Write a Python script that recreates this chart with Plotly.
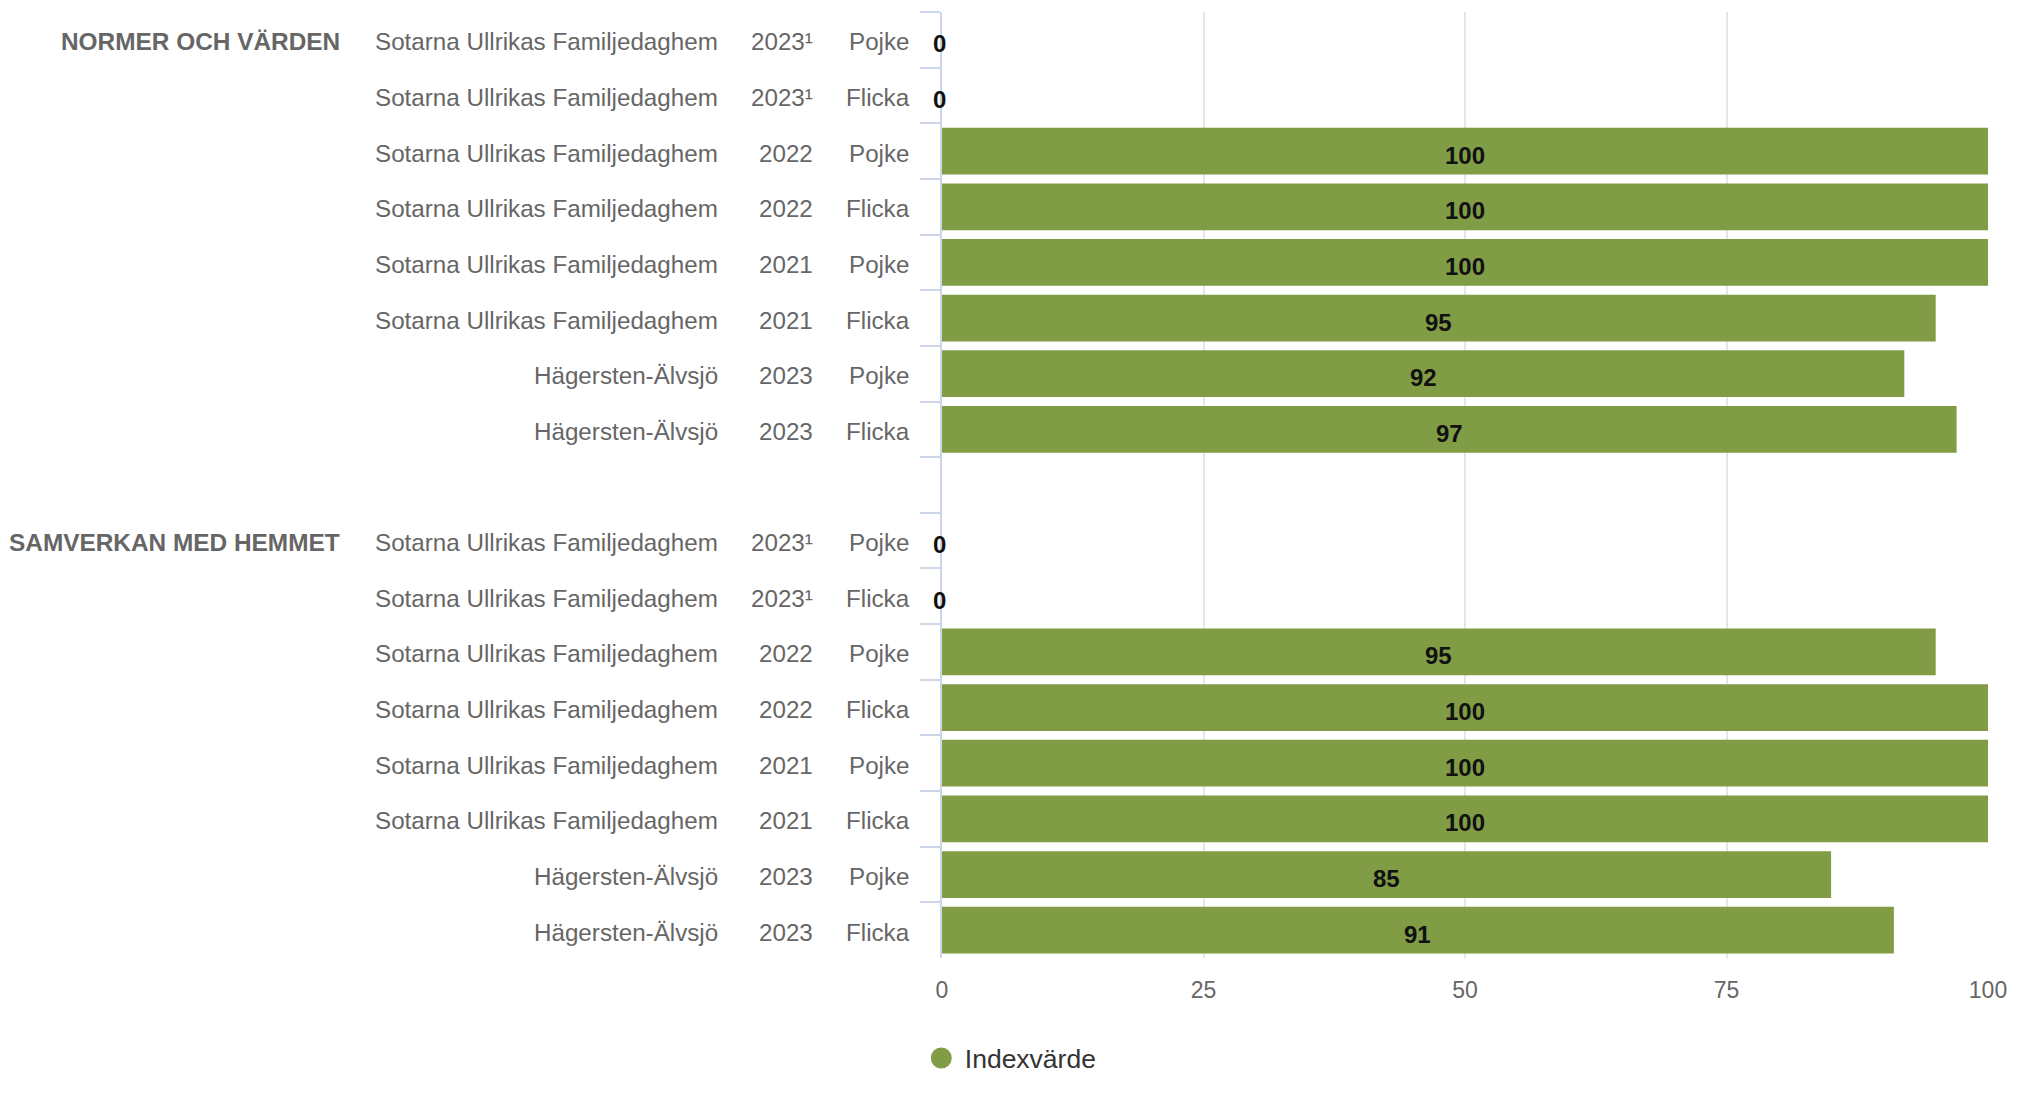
import plotly.graph_objects as go

# ---- data ----
group_names = ["NORMER OCH VÄRDEN", "SAMVERKAN MED HEMMET"]
units = ["Sotarna Ullrikas Familjedaghem"] * 6 + ["Hägersten-Älvsjö"] * 2
years = ["2023¹", "2023¹", "2022", "2022", "2021", "2021", "2023", "2023"]
genders = ["Pojke", "Flicka", "Pojke", "Flicka", "Pojke", "Flicka", "Pojke", "Flicka"]
normer_values = [0, 0, 100, 100, 100, 95, 92, 97]
samverkan_values = [0, 0, 95, 100, 100, 100, 85, 91]
x_ticks = [0, 25, 50, 75, 100]
legend_name = "Indexvärde"

# ---- style ----
BAR_COLOR = "#809c45"
LABEL_COLOR = "#666666"
FONT = "Liberation Sans, Arial, sans-serif"
W, H = 2019, 1094
PLOT_L, PLOT_R, PLOT_T, PLOT_B = 941.5, 2000, 12, 974  # page pixels
M_L, M_R, M_T, M_B = PLOT_L, W - PLOT_R, PLOT_T, H - PLOT_B
PH = H - M_T - M_B
PW = W - M_L - M_R

# ---- build rows ----
row_ids, row_vals, row_info = [], [], []
for gi, (gname, vals) in enumerate(zip(group_names, [normer_values, samverkan_values])):
    if gi > 0:
        row_ids.append("gap")
        row_vals.append(None)
        row_info.append(None)
    for i, v in enumerate(vals):
        rid = f"g{gi}_{i}"
        row_ids.append(rid)
        row_vals.append(v)
        row_info.append((gname if i == 0 else "", units[i], years[i], genders[i]))

fig = go.Figure()
fig.add_trace(go.Bar(
    x=row_vals, y=row_ids, orientation="h",
    marker=dict(color=BAR_COLOR, line=dict(width=0)),
    showlegend=False, hoverinfo="x+y",
))

# legend entry (circle symbol)
fig.add_trace(go.Scatter(
    x=[None], y=[None], mode="markers", name=legend_name,
    marker=dict(color=BAR_COLOR, size=26, symbol="circle",
                line=dict(color=BAR_COLOR, width=5)),
))

annotations = []
# value labels, centred in each bar
for rid, v in zip(row_ids, row_vals):
    if v is None:
        continue
    annotations.append(dict(
        xref="x", yref="y", x=v / 2, y=rid, text=f"<b>{v}</b>", showarrow=False,
        xanchor="center", yanchor="middle", yshift=-4, xshift=-3 if v == 0 else 0,
        font=dict(family=FONT, size=24, color="#111111"),
    ))

# category labels (multi-level)
for rid, info in zip(row_ids, row_info):
    if info is None:
        continue
    g, u, yr, gd = info
    common = dict(xref="paper", yref="y", x=0, y=rid, showarrow=False,
                  yanchor="middle", yshift=-2)
    f = dict(family=FONT, size=24.2, color=LABEL_COLOR)
    if g:
        annotations.append(dict(text=f"<b>{g}</b>", xanchor="right", xshift=341 - PLOT_L,
                                font=dict(family=FONT, size=24.4, color=LABEL_COLOR), **common))
    annotations.append(dict(text=u, xanchor="right", xshift=719 - PLOT_L, font=f, **common))
    annotations.append(dict(text=yr, xanchor="right", xshift=814 - PLOT_L, font=f, **common))
    annotations.append(dict(text=gd, xanchor="right", xshift=911 - PLOT_L, font=f, **common))

fig.update_layout(
    width=W, height=H,
    margin=dict(l=M_L, r=M_R, t=M_T, b=M_B, pad=0),
    paper_bgcolor="white", plot_bgcolor="white",
    bargap=0.16,
    font=dict(family=FONT, size=24, color=LABEL_COLOR),
    annotations=annotations,
    xaxis=dict(
        range=[0, 100], tickvals=x_ticks, showgrid=True, gridcolor="#e6e6e6", gridwidth=2,
        zeroline=False, showline=False, ticks="", ticklabelstandoff=16,
        ticklabeloverflow="allow",
        tickfont=dict(family=FONT, size=23, color=LABEL_COLOR), fixedrange=True,
    ),
    yaxis=dict(
        type="category", categoryorder="array", categoryarray=row_ids,
        range=[len(row_ids) - 0.5, -0.5], showticklabels=False,
        ticks="outside", tickson="boundaries", ticklen=20, tickwidth=2, tickcolor="#ccd6eb",
        showline=True, linecolor="#ccd6eb", linewidth=2, showgrid=False, zeroline=False,
        layer="below traces", fixedrange=True,
    ),
    legend=dict(
        orientation="h", x=(917 - PLOT_L) / PW, xanchor="left",
        y=-(1076 - PLOT_B) / PH, yanchor="middle",
        font=dict(family=FONT, size=26.5, color="#333333"),
        itemsizing="trace", itemwidth=37,
    ),
)

fig.write_html(
    "out.html",
    config={"displayModeBar": False},
    post_script="document.body.style.margin='0';document.body.style.overflow='hidden';",
)
